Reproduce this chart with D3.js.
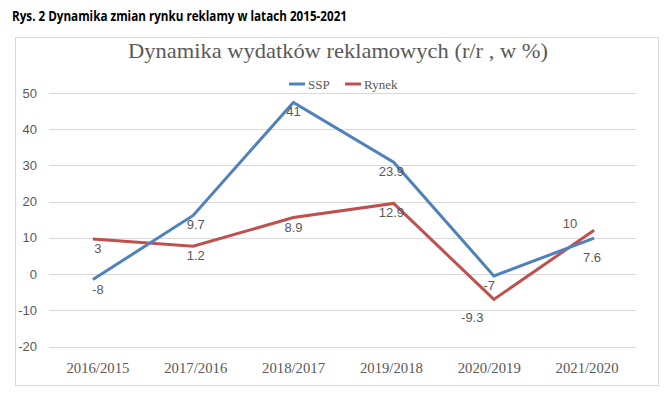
<!DOCTYPE html>
<html>
<head>
<meta charset="utf-8">
<script src="https://cdn.jsdelivr.net/npm/d3@7"></script>
<style>
  body { margin: 0; background: #fff; }
  svg text { fill: #595959; }
</style>
</head>
<body>
<div id="chart"></div>
<script>
// Data
const categories = ["2016/2015", "2017/2016", "2018/2017", "2019/2018", "2020/2019", "2021/2020"];
const ssp = [-1.5, 16.2, 47.4, 30.9, -0.5, 9.9];
const rynek = [9.7, 7.7, 15.6, 19.5, -7.0, 12.1];
// labels printed on the chart (they differ from the plotted heights)
const sspLabels = ["-8", "9.7", "41", "23.9", "-7", "7.6"];
const rynekLabels = ["3", "1.2", "8.9", "12.9", "-9.3", "10"];
const yTicks = [-20, -10, 0, 10, 20, 30, 40, 50];

const width = 667, height = 399;

const svg = d3.select("#chart").append("svg")
    .attr("width", width)
    .attr("height", height);

// Figure caption
svg.append("text")
    .attr("x", 12)
    .attr("y", 21)
    .attr("textLength", 335)
    .attr("lengthAdjust", "spacingAndGlyphs")
    .style("font-family", "'Open Sans', sans-serif")
    .style("font-weight", "bold")
    .style("font-size", "14px")
    .style("fill", "#000")
    .text("Rys. 2 Dynamika zmian rynku reklamy w latach 2015-2021");

// Chart frame
svg.append("rect")
    .attr("x", 15.5).attr("y", 37.5)
    .attr("width", 643).attr("height", 348)
    .attr("fill", "#fff")
    .attr("stroke", "#d9d9d9");

// Chart title
svg.append("text")
    .attr("x", 338)
    .attr("y", 58)
    .attr("text-anchor", "middle")
    .attr("textLength", 420)
    .attr("lengthAdjust", "spacingAndGlyphs")
    .style("font-family", "'Liberation Serif', serif")
    .style("font-size", "21px")
    .text("Dynamika wydatków reklamowych (r/r , w %)");

// Scales
const x = d3.scaleBand().domain(categories).range([49, 636]);
const xLine = d3.scalePoint().domain(categories)
    .range([x(categories[0]) + x.bandwidth() / 2 - 5, x(categories[5]) + x.bandwidth() / 2 + 7]);
const y = d3.scaleLinear().domain([-20, 50]).range([346.5, 93]);

// Gridlines
svg.append("g")
    .selectAll("line")
    .data(yTicks)
    .enter().append("line")
    .attr("x1", 49).attr("x2", 636)
    .attr("y1", d => Math.round(y(d)) + 0.5)
    .attr("y2", d => Math.round(y(d)) + 0.5)
    .attr("stroke", "#d9d9d9")
    .attr("stroke-width", 1);

// Y axis labels
svg.append("g")
    .selectAll("text")
    .data(yTicks)
    .enter().append("text")
    .attr("x", 37)
    .attr("y", d => y(d) + 4.5)
    .attr("text-anchor", "end")
    .style("font-family", "'Liberation Sans', sans-serif")
    .style("font-size", "13px")
    .text(d => d);

// Category labels
svg.append("g")
    .selectAll("text")
    .data(categories)
    .enter().append("text")
    .attr("x", d => x(d) + x.bandwidth() / 2)
    .attr("y", 373)
    .attr("text-anchor", "middle")
    .attr("textLength", 63)
    .attr("lengthAdjust", "spacingAndGlyphs")
    .style("font-family", "'Liberation Serif', serif")
    .style("font-size", "14px")
    .text(d => d);

// Lines
const line = d3.line()
    .x((d, i) => xLine(categories[i]))
    .y(d => y(d));

const series = [
    { name: "SSP", values: ssp, labels: sspLabels, color: "#4f81bd" },
    { name: "Rynek", values: rynek, labels: rynekLabels, color: "#c0504d" }
];

series.slice().reverse().forEach(s => {
    svg.append("path")
        .datum(s.values)
        .attr("d", line)
        .attr("fill", "none")
        .attr("stroke", s.color)
        .attr("stroke-width", 3)
        .attr("stroke-linejoin", "miter");
});

// Data labels: below the point, a few moved by hand as in the original
const labelShift = { "Rynek-4": [-17, 9], "Rynek-5": [-17, -16], "SSP-5": [5, 10] };
series.forEach(s => {
    svg.append("g")
        .selectAll("text")
        .data(s.values)
        .enter().append("text")
        .attr("x", (d, i) => x(categories[i]) + x.bandwidth() / 2 + ((labelShift[s.name + "-" + i] || [0, 0])[0]))
        .attr("y", (d, i) => y(d) + 14 + ((labelShift[s.name + "-" + i] || [0, 0])[1]))
        .attr("text-anchor", "middle")
        .style("font-family", "'Liberation Sans', sans-serif")
        .style("font-size", "13px")
        .text((d, i) => s.labels[i]);
});

// Legend
const legend = svg.append("g")
    .selectAll("g")
    .data(series)
    .enter().append("g")
    .attr("transform", (d, i) => `translate(${289 + i * 56}, 84)`);

legend.append("line")
    .attr("x1", 0).attr("x2", 16)
    .attr("stroke", d => d.color)
    .attr("stroke-width", 3);

legend.append("text")
    .attr("x", 19)
    .attr("y", 4.5)
    .style("font-family", "'Liberation Serif', serif")
    .style("font-size", "13px")
    .text(d => d.name);
</script>
</body>
</html>
